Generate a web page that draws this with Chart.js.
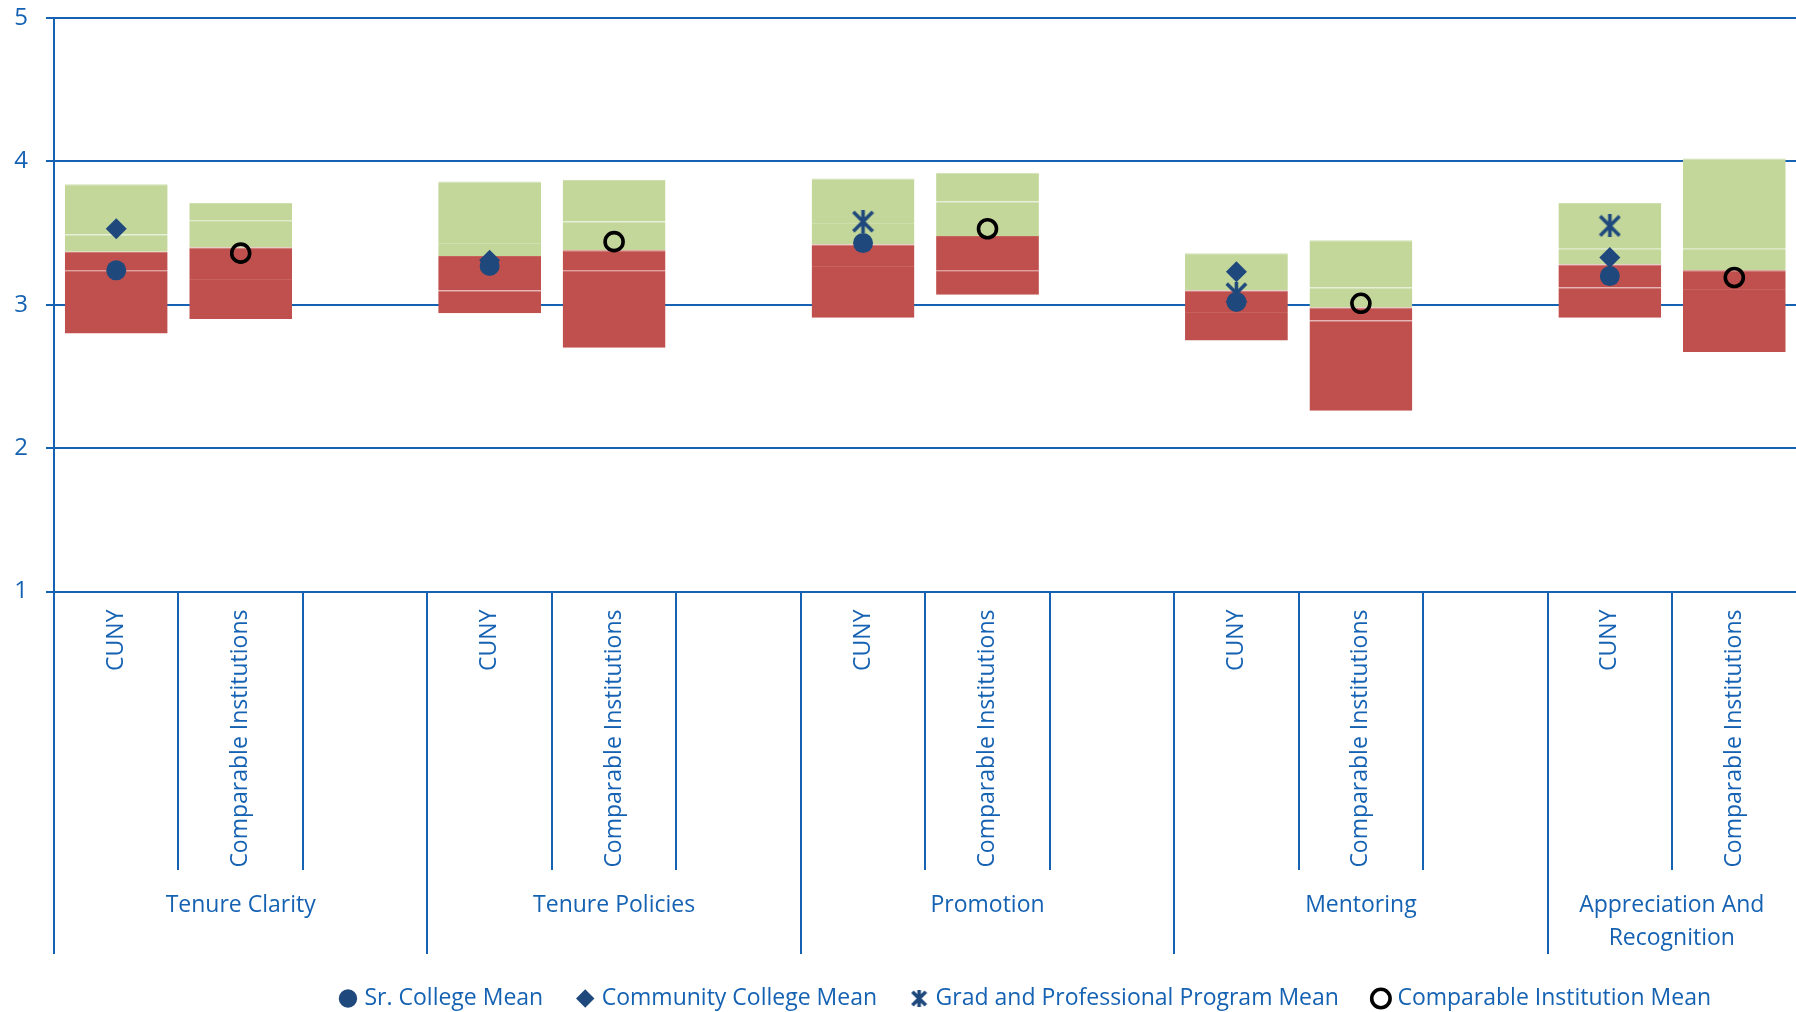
<!DOCTYPE html>
<html lang="en">
<head>
<meta charset="UTF-8">
<title>Tenure and Promotion</title>
<script src="https://cdn.jsdelivr.net/npm/chart.js"></script>
<style>
  html,body{margin:0;padding:0;background:#fff;overflow:hidden}
  #view{width:1796px;height:1012px;overflow:hidden;position:relative}
  #wrap{position:absolute;left:0;top:0;width:2054px;height:1012px}
</style>
</head>
<body>
<div id="view"><div id="wrap"><canvas id="chart"></canvas></div></div>
<script>
// groups and slots (each group: CUNY, Comparable Institutions, empty gap)
const groups = [['Tenure Clarity'], ['Tenure Policies'], ['Promotion'], ['Mentoring'], ['Appreciation And', 'Recognition']];
const slotNames = ['CUNY', 'Comparable Institutions', ''];
const yTicks = [1, 2, 3, 4, 5];

// CUNY bar segments (low -> q1 -> median -> q3 -> high)
const cunyLow  = [2.80, 2.94, 2.91, 2.75, 2.91];
const cunyQ1   = [3.24, 3.10, 3.27, 2.95, 3.12];
const cunyMed  = [3.37, 3.34, 3.42, 3.10, 3.28];
const cunyQ3   = [3.49, 3.43, 3.57, 3.10, 3.39];
const cunyHigh = [3.84, 3.86, 3.88, 3.36, 3.71];

// Comparable institutions bar segments
const compLow  = [2.90, 2.70, 3.07, 2.26, 2.67];
const compQ1   = [3.18, 3.24, 3.24, 2.89, 3.11];
const compMed  = [3.40, 3.38, 3.48, 2.98, 3.24];
const compQ3   = [3.59, 3.58, 3.72, 3.12, 3.39];
const compHigh = [3.71, 3.87, 3.92, 3.45, 4.02];

// means (markers)
const srMean   = [3.24, 3.27, 3.43, 3.02, 3.20];
const ccMean   = [3.53, 3.31, null, 3.23, 3.33];
const gradMean = [null, null, 3.58, 3.08, 3.55];
const compMean = [3.36, 3.44, 3.53, 3.01, 3.19];

const BLUE = '#1562b3';
const NAVY = '#1f497d';
const RED = '#c0504d';
const GREEN = '#c4d79b';
const FONT = "'Open Sans', sans-serif";

const labels = [];
groups.forEach((g, i) => slotNames.forEach((s, j) => labels.push(i + '-' + j)));

// put per-group values into the 15 slots
function cunySlots(arr) { const out = []; arr.forEach(v => out.push(v, null, null)); return out; }
function compSlots(arr) { const out = []; arr.forEach(v => out.push(null, v, null)); return out; }
function rangeSlots(a1, b1, a2, b2) {
  const out = [];
  for (let i = 0; i < a1.length; i++) out.push([a1[i], b1[i]], [a2[i], b2[i]], null);
  return out;
}

function makeStar(size, lw) {
  const c = document.createElement('canvas');
  c.width = size; c.height = size;
  const g = c.getContext('2d');
  const m = lw / 2, e = size - m, mid = size / 2;
  g.strokeStyle = NAVY; g.lineWidth = lw; g.lineCap = 'butt';
  g.beginPath();
  g.moveTo(m, m); g.lineTo(e, e);
  g.moveTo(e, m); g.lineTo(m, e);
  g.moveTo(mid, 0); g.lineTo(mid, size);
  g.stroke();
  return c;
}
const starBig = makeStar(23, 3.6);
const starSmall = makeStar(17, 3.6);

function barSeg(a1, b1, a2, b2, color, line) {
  return {
    type: 'bar', label: '', data: rangeSlots(a1, b1, a2, b2),
    backgroundColor: color, borderColor: line,
    borderWidth: {top: 1, bottom: 0, left: 0, right: 0}, borderSkipped: false,
    grouped: false, barPercentage: 1, categoryPercentage: 0.826, order: 1
  };
}

function marker(label, data, style, radius, fill, border, bw) {
  return {
    type: 'line', label, data, showLine: false, order: 0,
    pointStyle: style, pointRadius: radius, pointHoverRadius: radius,
    pointBackgroundColor: fill, pointBorderColor: border, pointBorderWidth: bw,
    backgroundColor: fill, borderColor: border, borderWidth: bw
  };
}

const lowerAxis = {
  id: 'lowerAxis',
  afterDraw(chart) {
    const {ctx, chartArea} = chart;
    const x = chart.scales.x;
    const slotW = (chartArea.right - chartArea.left) / labels.length;
    const base = chartArea.bottom;
    const visW = document.getElementById('view').clientWidth;
    ctx.save();
    ctx.strokeStyle = BLUE;
    ctx.lineWidth = 2;
    for (let i = 0; i <= labels.length; i++) {
      const px = Math.round(chartArea.left + i * slotW);
      ctx.beginPath();
      ctx.moveTo(px, base);
      ctx.lineTo(px, i % 3 === 0 ? 954 : 870);
      ctx.stroke();
    }
    ctx.fillStyle = BLUE;
    ctx.font = '23px ' + FONT;
    labels.forEach((l, i) => {
      const name = slotNames[i % 3];
      if (!name) return;
      ctx.save();
      ctx.translate(x.getPixelForValue(i), base + 18);
      ctx.rotate(-Math.PI / 2);
      ctx.textAlign = 'right';
      ctx.textBaseline = 'middle';
      ctx.fillText(name, 0, 0);
      ctx.restore();
    });
    ctx.font = '23px ' + FONT;
    ctx.textAlign = 'center';
    ctx.textBaseline = 'middle';
    groups.forEach((g, i) => {
      const x0 = chartArea.left + i * 3 * slotW;
      const x1 = Math.min(chartArea.left + (i + 1) * 3 * slotW, visW);
      g.forEach((line, k) => ctx.fillText(line, (x0 + x1) / 2, 905 + k * 33));
    });
    ctx.restore();
  }
};

new Chart(document.getElementById('chart'), {
  data: {
    labels,
    datasets: [
      marker('Sr. College Mean', cunySlots(srMean), 'circle', 10, NAVY, NAVY, 0),
      marker('Community College Mean', cunySlots(ccMean), 'rectRot', 10.5, NAVY, NAVY, 0),
      marker('Grad and Professional Program Mean', cunySlots(gradMean), starBig, 11.5, NAVY, NAVY, 0),
      marker('Comparable Institution Mean', compSlots(compMean), 'circle', 9, 'rgba(0,0,0,0)', '#000', 3.6),
      barSeg(cunyLow, cunyQ1, compLow, compQ1, RED, '#c9625f'),
      barSeg(cunyQ1, cunyMed, compQ1, compMed, RED, '#c9625f'),
      barSeg(cunyMed, cunyQ3, compMed, compQ3, GREEN, '#cddfaf'),
      barSeg(cunyQ3, cunyHigh, compQ3, compHigh, GREEN, '#cddfaf')
    ]
  },
  options: {
    responsive: true,
    maintainAspectRatio: false,
    animation: false,
    layout: {padding: {top: 18, left: 0, right: 0, bottom: -8}},
    plugins: {
      tooltip: {enabled: false},
      legend: {
        position: 'bottom',
        labels: {
          filter: item => item.text !== '',
          usePointStyle: true,
          boxWidth: 10,
          boxHeight: 13,
          padding: 37,
          color: BLUE,
          font: {family: FONT, size: 23},
          generateLabels(chart) {
            const items = Chart.defaults.plugins.legend.labels.generateLabels(chart);
            items.forEach(it => { if (it.pointStyle === starBig) it.pointStyle = starSmall; });
            return items;
          }
        }
      }
    },
    scales: {
      x: {
        type: 'category',
        offset: true,
        grid: {display: false},
        border: {display: false},
        ticks: {display: false},
        afterFit(s) { s.height = 358.5; }
      },
      y: {
        min: 1, max: 5,
        ticks: {stepSize: 1, color: BLUE, padding: 18, font: {family: FONT, size: 24}},
        grid: {color: BLUE, lineWidth: 2, tickLength: 8},
        border: {color: BLUE, width: 2},
        afterFit(s) { s.width = 54; s.paddingTop = 0; s.paddingBottom = 0; }
      },
      y2: {
        position: 'right',
        display: true,
        grid: {display: false},
        border: {display: false},
        ticks: {display: false},
        afterFit(s) { s.width = 133; s.paddingTop = 0; s.paddingBottom = 0; }
      }
    }
  },
  plugins: [lowerAxis]
});
</script>
</body>
</html>
